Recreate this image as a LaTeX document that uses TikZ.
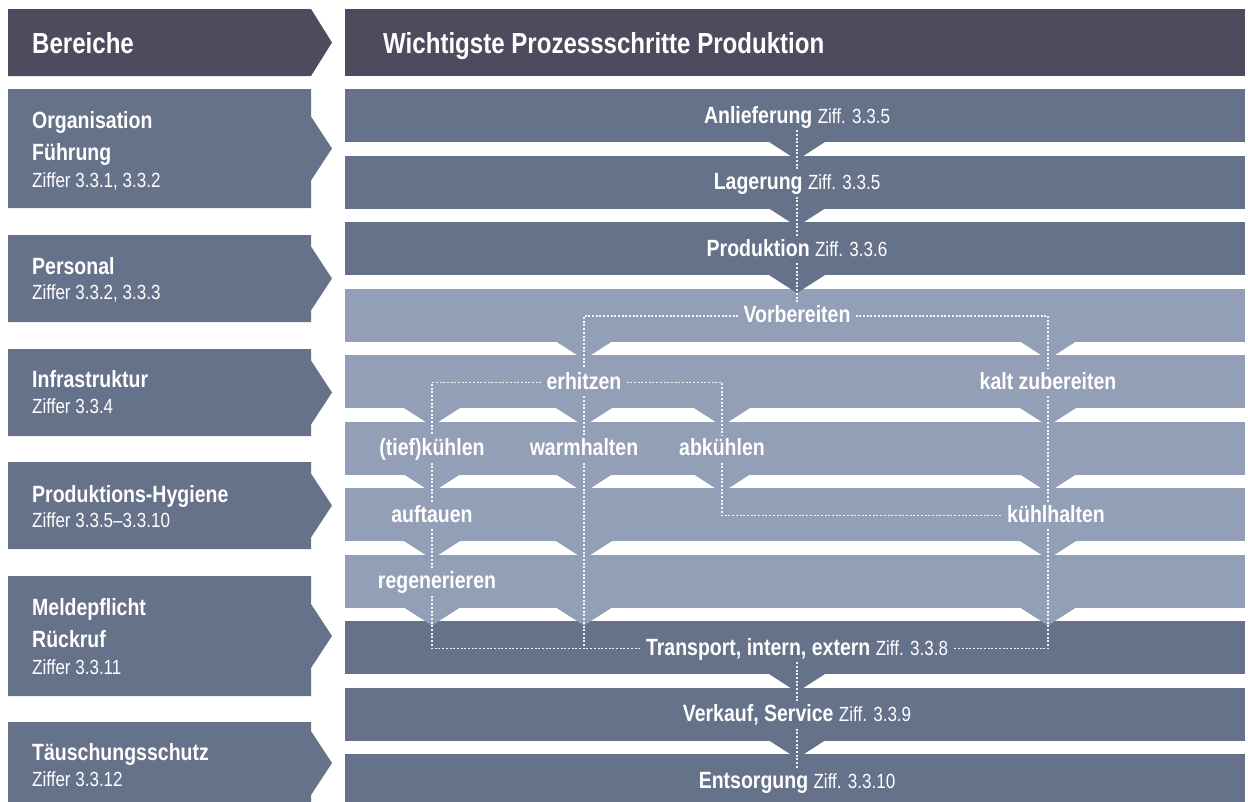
\documentclass[tikz,border=0pt]{standalone}
\usepackage{fontspec}
\setmainfont{Liberation Sans}[FakeStretch=0.83]
\definecolor{hdrc}{RGB}{79,75,94}
\definecolor{bandd}{RGB}{102,113,138}
\definecolor{bandl}{RGB}{147,158,183}
\newcommand\zifftext[1]{{\fontsize{20.5}{22}\selectfont\mdseries #1}}
\begin{document}
\begin{tikzpicture}[x=1pt,y=-1pt,
  hdr/.style={font=\fontsize{29}{30}\selectfont\bfseries, text=white, inner sep=0pt, anchor=base west},
  lt/.style={font=\fontsize{23.5}{25}\selectfont\bfseries, text=white, inner sep=0pt, anchor=base west},
  lz/.style={font=\fontsize{20.5}{22}\selectfont, text=white, inner sep=0pt, anchor=base west},
  st/.style={font=\fontsize{23.5}{25}\selectfont\bfseries, text=white, anchor=base,
    inner xsep=5pt, inner ysep=3pt, text height=17pt, text depth=4pt},
  dot/.style={draw=white, line width=1.3pt, dash pattern=on 2pt off 1.7pt, opacity=0.9},
]
\useasboundingbox (0,0) rectangle (1248,801);
\clip (0,0) rectangle (1248,801);
% headers
\fill[hdrc] (8,9) -- (311,9) -- (332,42.5) -- (311,76) -- (8,76) -- cycle;
\fill[hdrc] (345,9) rectangle (1245,76);
% left boxes
\foreach \t/\b in {89/208, 235/322, 349/436, 462/549, 576/696, 722/804}{
  \pgfmathsetmacro\c{(\t+\b)/2}
  \fill[bandd] (8,\t) -- (311,\t) -- ({311},{\c-32}) -- ({332},{\c}) -- ({311},{\c+32}) -- (311,\b) -- (8,\b) -- cycle;
}
% bands
\foreach \i in {0,1,2,8,9,10}{
  \fill[bandd] ({345},{89+66.5*\i}) rectangle ({1245},{142+66.5*\i});
}
\foreach \i in {3,...,7}{
  \fill[bandl] ({345},{89+66.5*\i}) rectangle ({1245},{142+66.5*\i});
}
% notches
\foreach \g/\x in {0/797,1/797,2/797,8/797,9/797}{
  \fill[bandd] ({\x-28},{142+66.5*\g}) -- ({\x+28},{142+66.5*\g}) -- ({\x},{160+66.5*\g}) -- cycle;
}
\foreach \g/\x in {3/584,3/1048,4/432,4/584,4/722,4/1048,5/432,5/584,5/722,5/1048,6/432,6/584,6/1048,7/432,7/584,7/1048}{
  \fill[bandl] ({\x-28},{142+66.5*\g}) -- ({\x+28},{142+66.5*\g}) -- ({\x},{160+66.5*\g}) -- cycle;
}
% header texts
\node[hdr] (bereiche) at (32,53) {Bereiche};
\node[hdr] (wps) at (383,53) {Wichtigste Prozessschritte Produktion};
% left texts
\node[lt] (org) at (32,128) {Organisation};
\node[lt] (fuehr) at (32,160) {Führung};
\node[lz] (zorg) at (32,187) {Ziffer 3.3.1, 3.3.2};
\node[lt] (pers) at (32,274) {Personal};
\node[lz] (zpers) at (32,299) {Ziffer 3.3.2, 3.3.3};
\node[lt] (infra) at (32,387) {Infrastruktur};
\node[lz] (zinfra) at (32,413) {Ziffer 3.3.4};
\node[lt] (phyg) at (32,502) {Produktions-Hygiene};
\node[lz] (zphyg) at (32,527) {Ziffer 3.3.5–3.3.10};
\node[lt] (meld) at (32,615) {Meldepflicht};
\node[lt] (rueck) at (32,647) {Rückruf};
\node[lz] (zmeld) at (32,674) {Ziffer 3.3.11};
\node[lt] (taeu) at (32,760) {Täuschungsschutz};
\node[lz] (ztaeu) at (32,786) {Ziffer 3.3.12};
% step texts
\node[st] (anl) at (797,123) {Anlieferung \zifftext{Ziff. 3.3.5}};
\node[st] (lag) at (797,189.5) {Lagerung \zifftext{Ziff. 3.3.5}};
\node[st] (prod) at (797,256) {Produktion \zifftext{Ziff. 3.3.6}};
\node[st] (vorb) at (797,322.5) {Vorbereiten};
\node[st] (erh) at (584,389) {erhitzen};
\node[st] (kalt) at (1048,389) {kalt zubereiten};
\node[st] (tk) at (432,455.5) {(tief)kühlen};
\node[st] (warm) at (584,455.5) {warmhalten};
\node[st] (abk) at (722,455.5) {abkühlen};
\node[st] (auf) at (432,522) {auftauen};
\node[st] (kuehl) at (1056,522) {kühlhalten};
\node[st] (reg) at (437,588.5) {regenerieren};
\node[st] (trans) at (797,655) {Transport, intern, extern \zifftext{Ziff. 3.3.8}};
\node[st] (verk) at (797,721.5) {Verkauf, Service \zifftext{Ziff. 3.3.9}};
\node[st] (ents) at (797,788) {Entsorgung \zifftext{Ziff. 3.3.10}};
% connectors
\draw[dot] (anl) -- (lag);
\draw[dot] (lag) -- (prod);
\draw[dot] (prod) -- (vorb);
\draw[dot] (vorb.west) -| (erh.north);
\draw[dot] (vorb.east) -| (kalt.north);
\draw[dot] (erh.west) -| (tk.north);
\draw[dot] (erh.east) -| (abk.north);
\draw[dot] (erh) -- (warm);
\draw[dot] (tk) -- (auf);
\draw[dot] (auf.south) -- (auf.south |- reg.north);
\draw[dot] (auf.south |- reg.south) |- (trans.west);
\draw[dot] (warm.south) -- (warm.south |- trans.west);
\draw[dot] (abk.south) |- (kuehl.west);
\draw[dot] (kalt.south) -- (kalt.south |- kuehl.north);
\draw[dot] (kalt.south |- kuehl.south) |- (trans.east);
\draw[dot] (trans) -- (verk);
\draw[dot] (verk) -- (ents);
\end{tikzpicture}
\end{document}
